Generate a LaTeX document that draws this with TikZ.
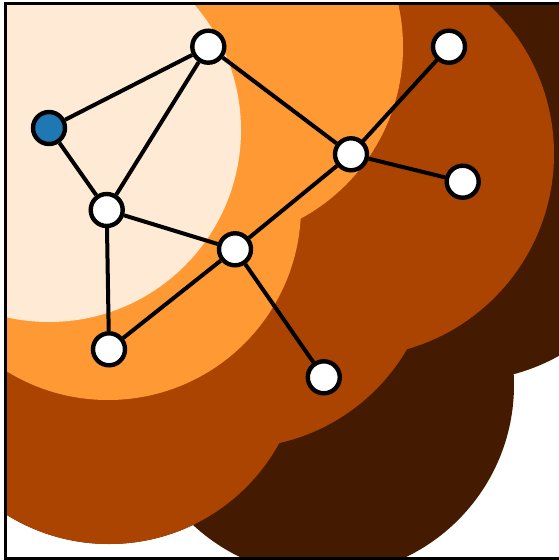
\documentclass[tikz,border=0pt]{standalone}
\usetikzlibrary{backgrounds}
\definecolor{lvlzero}{HTML}{FFEAD6}
\definecolor{lvlone}{HTML}{FF9933}
\definecolor{lvltwo}{HTML}{AA4400}
\definecolor{lvlthree}{HTML}{441A00}
\definecolor{srcblue}{HTML}{1F77B4}
\tikzset{
  vtx/.style={circle, draw=black, line width=4.4pt, fill=white, minimum size=32pt, inner sep=0pt},
  srcvtx/.style={vtx, fill=srcblue},
  edge/.style={draw=black, line width=4pt},
}
\begin{document}
\begin{tikzpicture}[x=1pt,y=-1pt]
\useasboundingbox (0,0) rectangle (559,560);
% vertices
\node[srcvtx] (a) at (49,128) {};
\node[vtx] (b) at (208.3,46.7) {};
\node[vtx] (c) at (106.7,210) {};
\node[vtx] (d) at (235,249.3) {};
\node[vtx] (e) at (109,349.3) {};
\node[vtx] (f) at (351,154.3) {};
\node[vtx] (g) at (449,46.7) {};
\node[vtx] (h) at (462.7,181.7) {};
\node[vtx] (i) at (323.8,377.3) {};
% edges
\draw[edge] (a) -- (b);
\draw[edge] (a) -- (c);
\draw[edge] (b) -- (c);
\draw[edge] (b) -- (f);
\draw[edge] (c) -- (d);
\draw[edge] (c) -- (e);
\draw[edge] (d) -- (e);
\draw[edge] (d) -- (f);
\draw[edge] (d) -- (i);
\draw[edge] (f) -- (g);
\draw[edge] (f) -- (h);
% nested neighbourhood regions
\begin{scope}[on background layer]
\fill[white] (0,0) rectangle (559,560);
\begin{scope}
\clip (5.7,3.7) rectangle (562,558.3);
% layer 3
\fill[lvlthree]
  (49,130) circle[radius=192] (208,47) circle[radius=195] (108,207) circle[radius=193]
  (235,249) circle[radius=199] (109,350) circle[radius=194] (351,154) circle[radius=203]
  (449,46) circle[radius=198] (462,182) circle[radius=199] (323,385) circle[radius=191];
% layer 2
\fill[lvltwo]
  (49,130) circle[radius=192] (208,47) circle[radius=195] (108,207) circle[radius=193]
  (235,249) circle[radius=199] (109,350) circle[radius=194] (351,154) circle[radius=203];
% layer 1
\fill[lvlone]
  (49,130) circle[radius=192] (208,47) circle[radius=195] (108,207) circle[radius=193];
% layer 0
\fill[lvlzero] (49,130) circle[radius=192];
\end{scope}
\draw[black, line width=3pt] (5.7,3.7) rectangle (562,558.3);
\end{scope}
\end{tikzpicture}
\end{document}
